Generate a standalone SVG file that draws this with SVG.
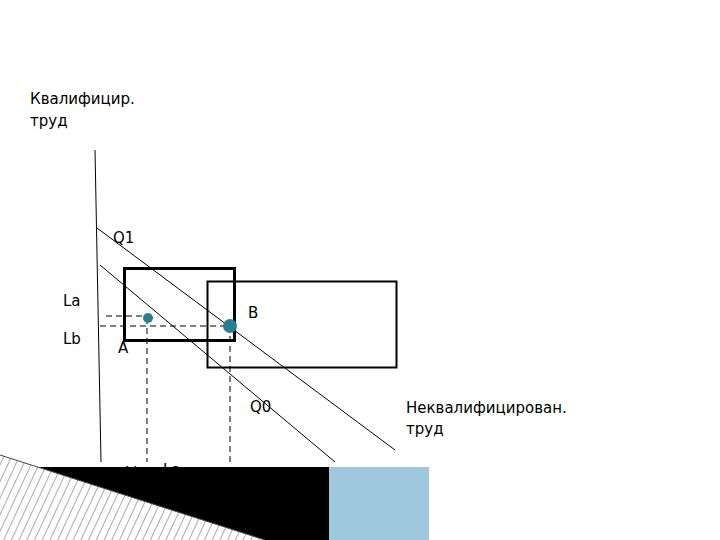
<svg xmlns="http://www.w3.org/2000/svg" width="720" height="540" viewBox="0 0 720 540">
<style>
text{font-family:"DejaVu Sans",sans-serif;font-size:15px;fill:#000}
.l{stroke:#000;stroke-width:1;fill:none}
.d{stroke:#000;stroke-width:1;stroke-dasharray:6,4;fill:none}
.dot{fill:#2a7f8f}
</style>
<defs>
<pattern id="h" width="7" height="7" patternUnits="userSpaceOnUse" patternTransform="rotate(25)">
<rect width="7" height="7" fill="#fff"/><line x1="0" y1="0" x2="0" y2="7" stroke="#555" stroke-width="1"/>
</pattern>
</defs>
<rect width="720" height="540" fill="#fff"/>
<g id="labels">
<text x="30" y="104">Квалифицир.</text>
<text x="30" y="126">труд</text>
<text x="113" y="243">Q1</text>
<text x="63" y="306">La</text>
<text x="63" y="344">Lb</text>
<text x="118" y="353">A</text>
<text x="248" y="318">B</text>
<text x="250" y="412">Q0</text>
<text x="406" y="413">Неквалифицирован.</text>
<text x="406" y="434">труд</text>
<text x="125" y="478">Lb</text>
<text x="163" y="475">La</text>
</g>
<g id="connectors">
<line class="l" x1="95" y1="150" x2="101" y2="462"/>
<line class="l" x1="97" y1="228" x2="395" y2="450"/>
<line class="l" x1="100" y1="265" x2="335" y2="462"/>
<line class="d" x1="106" y1="316" x2="148" y2="316"/>
<line class="d" x1="100" y1="326" x2="230" y2="326"/>
<line class="d" x1="147" y1="318" x2="147" y2="462"/>
<line class="d" x1="230" y1="326" x2="230" y2="462"/>
</g>
<g id="boxA"><rect x="124.5" y="268.5" width="110" height="72" fill="none" stroke="#000" stroke-width="3"/></g>
<g id="boxB"><rect x="207.5" y="281.5" width="189" height="86" fill="none" stroke="#000" stroke-width="2"/></g>
<g id="points">
<circle class="dot" cx="148" cy="318" r="5"/>
<circle class="dot" cx="230" cy="326" r="7"/>
</g>
<g id="footer">
<rect x="30" y="467" width="299" height="73" fill="#000"/>
<rect x="329" y="467" width="100" height="73" fill="#9ec9dc"/>
<polygon points="0,455 35,466 265,540 0,540" fill="url(#h)"/>
<line x1="0" y1="455" x2="265" y2="540" stroke="#444"/>
</g>
</svg>
